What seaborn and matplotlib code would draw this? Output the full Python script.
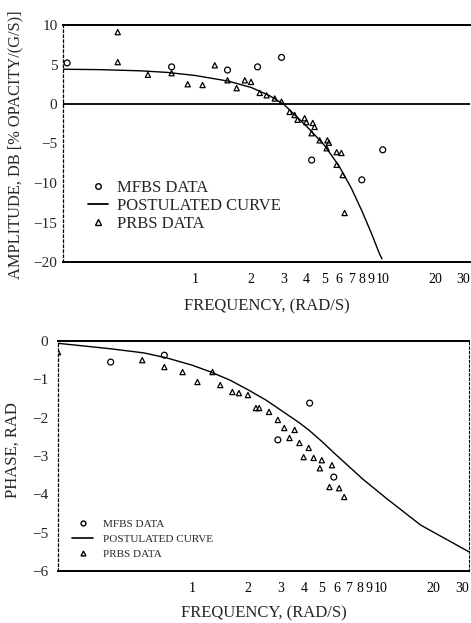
import numpy as np
import matplotlib
matplotlib.use("Agg")
import matplotlib.pyplot as plt
import matplotlib.transforms as mtransforms
from matplotlib.lines import Line2D
import seaborn as sns

# ---- amplitude data ----
amp_curve_f = [0.19, 0.3, 0.5, 0.7, 1.0, 1.5, 2.0, 2.5, 3.0, 3.5, 4.0, 5.0, 6.0, 7.0, 8.0, 9.0, 10.0, 10.3]
amp_curve_db = [4.4, 4.35, 4.2, 4.0, 3.6, 2.9, 2.1, 1.1, 0.0, -1.5, -2.8, -5.2, -7.8, -10.6, -13.5, -16.3, -19.0, -19.6]

amp_mfbs_f = [0.2, 0.74, 1.49, 2.17, 2.93, 4.27, 8.0, 10.4]
amp_mfbs_db = [5.2, 4.7, 4.3, 4.7, 5.9, -7.1, -9.6, -5.8]

amp_prbs_f = [0.377, 0.377, 0.55, 0.74, 0.905, 1.09, 1.27, 1.49, 1.67, 1.85, 2.0, 2.23, 2.43,
              2.69, 2.93, 3.24, 3.45, 3.58, 3.91, 4.0, 4.33, 4.43, 4.27, 4.72, 5.2, 5.3,
              5.15, 5.84, 6.2, 5.84, 6.3, 6.45]
amp_prbs_db = [9.1, 5.3, 3.7, 3.9, 2.5, 2.4, 4.9, 3.0, 2.0, 3.0, 2.8, 1.4, 1.1,
               0.7, 0.3, -1.0, -1.4, -2.0, -1.8, -2.3, -2.4, -2.9, -3.7, -4.6, -4.6, -4.9,
               -5.6, -6.1, -6.2, -7.7, -9.0, -13.8]

# ---- phase data ----
ph_curve_f = [0.19, 0.36, 0.55, 0.73, 1.0, 1.25, 1.6, 2.0, 2.5, 3.0, 3.75, 4.25, 5.0, 6.0, 8.3, 11.1, 17.0, 31.0]
ph_curve_rad = [-0.06, -0.2, -0.31, -0.44, -0.63, -0.8, -1.02, -1.27, -1.54, -1.8, -2.12, -2.32, -2.62, -2.98,
                -3.6, -4.1, -4.8, -5.5]

ph_mfbs_f = [0.365, 0.71, 2.9, 4.3, 5.8]
ph_mfbs_rad = [-0.55, -0.37, -2.58, -1.62, -3.55]

ph_prbs_f = [0.19, 0.54, 0.71, 0.89, 1.07, 1.29, 1.42, 1.65, 1.79, 2.0, 2.21, 2.3, 2.6, 2.9,
             3.14, 3.57, 3.35, 3.79, 4.25, 3.99, 4.52, 5.0, 5.67, 4.88, 5.5, 6.2, 6.6]
ph_prbs_rad = [-0.29, -0.5, -0.68, -0.81, -1.07, -0.81, -1.15, -1.33, -1.36, -1.41, -1.75, -1.75, -1.85, -2.06,
               -2.27, -2.32, -2.53, -2.66, -2.79, -3.03, -3.05, -3.11, -3.24, -3.32, -3.81, -3.84, -4.07]

freq_ticks = [1, 2, 3, 4, 5, 6, 7, 8, 9, 10, 20, 30]
freq_labels = ["1", "2", "3", "4", "5", "6", "7", "8", "9", "10", "20", "30"]
legend_labels = ["MFBS DATA", "POSTULATED CURVE", "PRBS DATA"]

sns.set_style("white")
plt.rcParams["font.family"] = ["Liberation Serif", "DejaVu Serif"]

fig = plt.figure(figsize=(4.71, 6.23), dpi=100)
ax1 = fig.add_axes([63 / 471, 1 - 262 / 623, 407 / 471, 237 / 623])
ax2 = fig.add_axes([58 / 471, 1 - 571 / 623, 411 / 471, 230 / 623])


def style_axis(ax):
    ax.set_xscale("log")
    ax.set_xlim(0.19, 31)
    ax.set_xticks(freq_ticks)
    ax.set_xticklabels(freq_labels)
    ax.xaxis.set_minor_locator(matplotlib.ticker.NullLocator())
    ax.tick_params(axis="x", direction="in", length=5, width=0.8, pad=8, labelsize=10, colors="k")
    ax.tick_params(axis="y", which="major", direction="in", length=8, width=1.0, pad=4, labelsize=11)
    ax.tick_params(axis="y", which="minor", direction="in", length=3, width=0.8)
    ax.spines["left"].set_linestyle((0, (2, 2)))
    ax.spines["left"].set_linewidth(0.9)
    ax.spines["top"].set_linewidth(1.4)
    ax.spines["bottom"].set_linewidth(1.4)
    for s in ax.spines.values():
        s.set_color("k")
    # nudge the crowded labels a little, like the typeset originals
    shifts = {"10": 3, "30": -4}
    for lab in ax.get_xticklabels():
        dx = shifts.get(lab.get_text(), 0)
        if dx:
            lab.set_transform(lab.get_transform() +
                              mtransforms.ScaledTranslation(dx / 100, 0, fig.dpi_scale_trans))


# amplitude
style_axis(ax1)
sns.lineplot(x=amp_curve_f, y=amp_curve_db, ax=ax1, color="k", lw=1.0, sort=False)
sns.scatterplot(x=amp_mfbs_f, y=amp_mfbs_db, ax=ax1, marker="o", s=18,
                facecolor="none", edgecolor="k", linewidth=0.9)
sns.scatterplot(x=amp_prbs_f, y=amp_prbs_db, ax=ax1, marker="^", s=14,
                facecolor="none", edgecolor="k", linewidth=0.9)
ax1.axhline(0, color="k", lw=1.3)
ax1.set_ylim(-20, 10)
ax1.set_yticks([-20, -15, -10, -5, 0, 5, 10])
ax1.set_yticklabels(["\u221220", "\u221215", "\u221210", "\u22125", "0", "5", "10"])
ax1.yaxis.set_minor_locator(matplotlib.ticker.MultipleLocator(1))
ax1.spines["right"].set_visible(False)
ax1.set_xlabel("FREQUENCY, (RAD/S)", fontsize=12)
ax1.xaxis.set_label_coords(0.5, -0.152)
ax1.set_ylabel("AMPLITUDE, DB [% OPACITY/(G/S)]", fontsize=11.8)
ax1.yaxis.set_label_coords(-0.098, 0.494)

h1 = [Line2D([], [], ls="none", marker="o", mfc="none", mec="k", ms=4),
      Line2D([], [], color="k", lw=1.3),
      Line2D([], [], ls="none", marker="^", mfc="none", mec="k", ms=4)]
ax1.legend(h1, legend_labels, loc="upper left",
           bbox_to_anchor=(0.061, 0.345), frameon=False, fontsize=12, handlelength=1.2,
           handletextpad=0.55, labelspacing=0.12, borderpad=0, borderaxespad=0)

# phase
style_axis(ax2)
sns.lineplot(x=ph_curve_f, y=ph_curve_rad, ax=ax2, color="k", lw=1.0, sort=False)
sns.scatterplot(x=ph_mfbs_f, y=ph_mfbs_rad, ax=ax2, marker="o", s=18,
                facecolor="none", edgecolor="k", linewidth=0.9)
sns.scatterplot(x=ph_prbs_f, y=ph_prbs_rad, ax=ax2, marker="^", s=14,
                facecolor="none", edgecolor="k", linewidth=0.9)
ax2.set_ylim(-6, 0)
ax2.set_yticks([-6, -5, -4, -3, -2, -1, 0])
ax2.set_yticklabels(["\u22126", "\u22125", "\u22124", "\u22123", "\u22122", "\u22121", "0"])
ax2.yaxis.set_minor_locator(matplotlib.ticker.MultipleLocator(0.5))
ax2.tick_params(axis="y", which="major", pad=7)
ax2.spines["right"].set_linestyle((0, (2, 2)))
ax2.spines["right"].set_linewidth(0.8)
ax2.set_xlabel("FREQUENCY, (RAD/S)", fontsize=12)
ax2.xaxis.set_label_coords(0.5, -0.148)
ax2.set_ylabel("PHASE, RAD", fontsize=12)
ax2.yaxis.set_label_coords(-0.09, 0.526)

h2 = [Line2D([], [], ls="none", marker="o", mfc="none", mec="k", ms=3.5),
      Line2D([], [], color="k", lw=1.2),
      Line2D([], [], ls="none", marker="^", mfc="none", mec="k", ms=3.5)]
ax2.legend(h2, legend_labels, loc="upper left",
           bbox_to_anchor=(0.034, 0.225), frameon=False, fontsize=8, handlelength=1.9,
           handletextpad=0.9, labelspacing=0.45, borderpad=0, borderaxespad=0)

fig.savefig("out.png", dpi=100)
